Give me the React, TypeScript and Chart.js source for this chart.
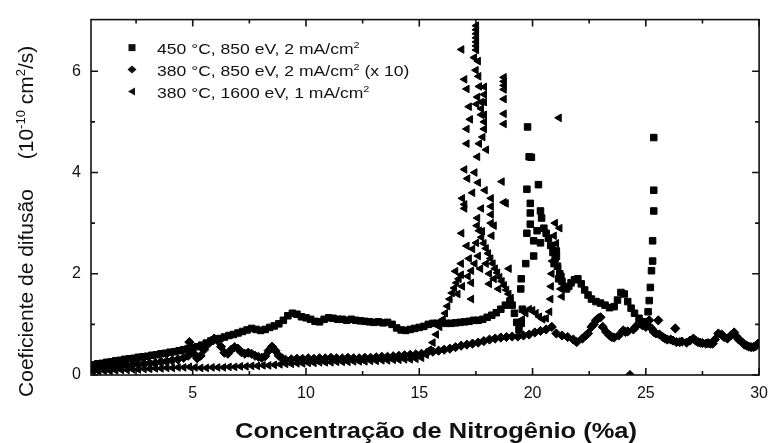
import React, { useEffect, useRef } from 'react';
import { Chart, registerables } from 'chart.js';

Chart.register(...registerables);

const FONT = '"Liberation Sans", Arial, Helvetica, sans-serif';

const X_MIN = 0.51;
const X_MAX = 30;
const Y_MIN = 0;
const Y_MAX = 7.02;
const X_TICKS = [5, 10, 15, 20, 25, 30];
const X_MINOR = [2.5, 7.5, 12.5, 17.5, 22.5, 27.5];
const Y_TICKS = [0, 2, 4, 6];
const Y_MINOR = [1, 3, 5];

const X_TITLE = 'Concentração de Nitrogênio (%a)';
const Y_TITLE_MAIN = 'Coeficiente de difusão';
const Y_TITLE_UNIT = '(10⁻¹⁰ cm²/s)';

const LABELS = [
  '450 °C, 850 eV, 2 mA/cm²',
  '380 °C, 850 eV, 2 mA/cm² (x 10)',
  '380 °C, 1600 eV, 1 mA/cm²',
];

// 450 °C, 850 eV, 2 mA/cm² (squares)
const SERIES_450: [number, number][] = [
  [0.6,0.2],[0.8,0.22],[1.0,0.23],[1.2,0.25],[1.4,0.26],[1.6,0.28],[1.8,0.29],[2.0,0.31],[2.2,0.32],[2.4,0.33],
  [2.6,0.35],[2.8,0.36],[3.0,0.37],[3.2,0.39],[3.4,0.4],[3.6,0.42],[3.8,0.43],[4.0,0.45],[4.2,0.46],[4.4,0.48],
  [4.6,0.5],[4.8,0.52],[5.0,0.54],[5.2,0.56],[5.4,0.59],[5.6,0.63],[5.8,0.67],[6.0,0.7],[6.2,0.72],[6.4,0.75],
  [6.6,0.78],[6.8,0.8],[7.0,0.83],[7.2,0.86],[7.4,0.89],[7.6,0.92],[7.8,0.9],[8.0,0.88],[8.2,0.9],[8.4,0.94],
  [8.6,0.97],[8.8,1.01],[9.0,1.08],[9.2,1.17],[9.4,1.22],[9.6,1.2],[9.8,1.15],[10.0,1.13],[10.2,1.1],[10.4,1.06],
  [10.6,1.05],[10.8,1.1],[11.0,1.13],[11.2,1.12],[11.4,1.1],[11.6,1.1],[11.8,1.08],[12.0,1.1],[12.2,1.08],[12.4,1.07],
  [12.6,1.06],[12.8,1.05],[13.0,1.04],[13.2,1.05],[13.4,1.03],[13.6,1.04],[13.8,1.0],[14.0,0.93],[14.2,0.89],[14.4,0.88],
  [14.6,0.9],[14.8,0.92],[15.0,0.94],[15.2,0.96],[15.4,1.0],[15.6,1.02],[15.8,1.02],[16.0,1.03],[16.2,1.02],[16.4,1.02],
  [16.6,1.03],[16.8,1.04],[17.0,1.05],[17.2,1.06],[17.4,1.08],[17.6,1.08],[17.8,1.1],[18.0,1.14],[18.2,1.18],[18.4,1.23],
  [18.6,1.3],[18.8,1.38],[19.0,1.45],[19.1,1.38],[19.2,1.22],[19.3,1.04],[19.4,0.9],[19.5,1.02],[19.55,1.3],[19.48,1.7],
  [19.5,1.9],[19.7,2.2],[19.75,2.8],[19.9,2.98],[19.9,3.2],[19.9,3.39],[19.75,3.67],[19.85,4.31],[19.95,4.3],[19.78,4.9],
  [20.05,2.35],[20.05,2.65],[20.26,3.76],[20.35,3.24],[20.4,3.1],[20.35,2.61],[20.2,2.85],[20.5,2.9],[20.6,2.8],[20.7,2.7],
  [20.8,2.56],[20.9,2.42],[21.0,2.3],[21.1,2.15],[21.2,2.0],[21.3,1.85],[21.4,1.73],[21.5,1.7],[21.6,1.75],[21.7,1.82],
  [21.85,1.88],[22.0,1.9],[22.15,1.8],[22.3,1.68],[22.45,1.58],[22.6,1.5],[22.8,1.45],[23.0,1.42],[23.2,1.38],[23.4,1.33],
  [23.6,1.35],[23.75,1.48],[23.9,1.63],[24.05,1.6],[24.2,1.45],[24.35,1.32],[24.5,1.22],[24.7,1.12],[24.9,1.05],[25.05,1.0],
  [25.1,1.25],[25.15,1.47],[25.2,1.73],[25.25,2.06],[25.3,2.25],[25.3,2.65],[25.35,3.24],[25.35,3.65],[25.35,4.69],
  [21.05,2.45],[21.25,1.95],[20.95,2.2],[21.15,1.9],
];

// 380 °C, 850 eV, 2 mA/cm² (x 10) (diamonds)
const SERIES_380_850: [number, number][] = [
  [0.6,0.13],[0.85,0.14],[1.1,0.15],[1.35,0.16],[1.6,0.17],[1.85,0.18],[2.1,0.19],[2.35,0.2],[2.6,0.21],[2.85,0.22],
  [3.1,0.23],[3.35,0.24],[3.6,0.26],[3.85,0.27],[4.1,0.29],[4.35,0.31],[4.6,0.34],[4.8,0.38],[4.85,0.65],[4.9,0.5],
  [5.05,0.42],[5.2,0.33],[5.35,0.38],[5.5,0.5],[5.65,0.6],[5.8,0.67],[5.95,0.72],[6.1,0.68],[6.25,0.56],[6.4,0.44],
  [6.55,0.42],[6.7,0.5],[6.85,0.55],[7.0,0.52],[7.15,0.45],[7.3,0.42],[7.45,0.44],[7.6,0.42],[7.75,0.38],[7.9,0.36],
  [8.05,0.34],[8.2,0.37],[8.35,0.48],[8.5,0.56],[8.65,0.48],[8.8,0.38],[8.95,0.33],[9.1,0.3],[9.35,0.31],[9.6,0.32],
  [9.85,0.32],[10.1,0.33],[10.35,0.32],[10.6,0.33],[10.85,0.33],[11.1,0.34],[11.35,0.33],[11.6,0.33],[11.85,0.34],[12.1,0.33],
  [12.35,0.33],[12.6,0.34],[12.85,0.34],[13.1,0.35],[13.35,0.36],[13.6,0.36],[13.85,0.37],[14.1,0.38],[14.35,0.39],[14.6,0.4],
  [14.85,0.41],[15.1,0.42],[15.35,0.44],[15.6,0.46],[15.85,0.48],[16.1,0.5],[16.35,0.52],[16.6,0.55],[16.85,0.58],[17.1,0.6],
  [17.35,0.62],[17.6,0.64],[17.85,0.67],[18.1,0.7],[18.35,0.72],[18.6,0.74],[18.85,0.75],[19.1,0.76],[19.35,0.76],[19.6,0.78],
  [19.85,0.8],[20.1,0.84],[20.35,0.87],[20.6,0.9],[20.85,0.95],[21.05,0.82],[21.3,0.78],[21.55,0.75],[21.8,0.7],[21.95,0.65],
  [22.2,0.72],[22.45,0.82],[22.6,0.95],[22.8,1.08],[23.0,1.14],[23.1,0.95],[23.25,0.85],[23.4,0.78],[23.6,0.74],[23.8,0.78],
  [24.0,0.88],[24.2,0.86],[24.3,0.0],[24.45,0.9],[24.65,1.0],[24.85,0.98],[25.0,0.95],[25.15,1.08],[25.35,0.85],[25.55,1.08],
  [25.6,0.8],[25.85,0.72],[26.1,0.7],[26.3,0.92],[26.35,0.65],[26.6,0.66],[26.8,0.64],[27.1,0.72],[27.3,0.65],[27.5,0.63],
  [27.75,0.63],[27.95,0.62],[28.2,0.82],[28.45,0.75],[28.6,0.72],[28.9,0.84],[29.1,0.7],[29.25,0.65],[29.45,0.58],[29.65,0.55],
  [29.85,0.57],[29.95,0.62],
  [22.35,0.78],[22.7,1.0],[22.9,1.12],[23.5,0.75],[24.1,0.85],[24.55,0.95],[25.25,0.92],[25.45,0.82],[25.75,0.75],[25.95,0.7],
  [26.2,0.68],[26.5,0.65],[26.95,0.68],[27.2,0.68],[27.4,0.64],[27.65,0.62],[27.85,0.62],[28.05,0.7],[28.35,0.8],[28.75,0.78],
  [29.0,0.76],[29.35,0.6],[29.55,0.56],[29.75,0.55],
];

// 380 °C, 1600 eV, 1 mA/cm² (left triangles)
const SERIES_380_1600: [number, number][] = [
  [0.6,0.07],[0.85,0.07],[1.1,0.08],[1.35,0.08],[1.6,0.09],[1.85,0.1],[2.1,0.1],[2.35,0.11],[2.6,0.11],[2.85,0.12],
  [3.1,0.12],[3.35,0.13],[3.6,0.13],[3.85,0.14],[4.1,0.14],[4.35,0.15],[4.6,0.15],[4.85,0.16],[5.1,0.15],[5.35,0.14],
  [5.6,0.14],[5.85,0.15],[6.1,0.15],[6.35,0.15],[6.6,0.16],[6.85,0.16],[7.1,0.17],[7.35,0.17],[7.6,0.18],[7.85,0.18],
  [8.1,0.19],[8.35,0.19],[8.6,0.2],[8.85,0.21],[9.1,0.22],[9.35,0.22],[9.6,0.23],[9.85,0.23],[10.1,0.24],[10.35,0.24],
  [10.6,0.25],[10.85,0.25],[11.1,0.25],[11.35,0.26],[11.6,0.26],[11.85,0.26],[12.1,0.27],[12.35,0.27],[12.6,0.27],[12.85,0.28],
  [13.1,0.28],[13.35,0.29],[13.6,0.29],[13.85,0.3],[14.1,0.3],[14.35,0.31],[14.6,0.31],[14.85,0.32],[15.1,0.34],[15.3,0.4],
  [15.45,0.5],[15.6,0.64],[15.75,0.8],[15.9,0.95],[16.05,1.1],[16.15,1.22],[16.25,1.36],[16.35,1.5],[16.45,1.62],[16.55,1.72],
  [16.65,1.82],[16.75,1.9],[16.85,1.98],[16.6,2.05],[16.7,1.6],[16.9,1.75],[16.85,2.2],[16.87,2.8],[16.9,3.49],[17.0,3.37],
  [17.0,4.06],[17.13,3.88],[17.1,4.57],[17.1,4.86],[17.0,5.84],[17.1,5.65],[16.87,6.43],[17.43,6.27],[17.5,6.02],[17.52,6.42],
  [17.52,6.5],[17.52,6.58],[17.52,6.66],[17.52,6.74],[17.52,6.82],[17.52,6.9],[17.57,5.49],[17.53,5.35],[17.87,5.69],[17.87,5.54],
  [17.87,5.39],[17.74,5.39],[17.74,5.26],[17.74,5.14],[17.87,5.14],[17.87,5.0],[17.87,4.86],[17.65,4.57],[17.96,4.45],[17.57,4.31],
  [18.65,3.82],[18.83,3.39],[18.74,3.41],[17.0,3.29],[17.74,3.29],[18.17,3.49],[18.17,3.33],[18.17,3.17],[18.17,3.0],[17.57,3.1],
  [17.3,2.06],[17.3,1.82],[17.3,1.5],[17.35,2.49],[17.52,2.61],[17.78,2.84],[18.2,2.75],[18.09,2.0],[18.09,1.8],[18.96,2.1],
  [18.74,5.88],[18.74,5.8],[18.74,5.72],[18.74,5.64],[18.74,5.45],[18.74,5.16],[18.74,4.96],[17.55,2.95],[17.65,2.85],[17.75,2.72],
  [17.85,2.6],[17.95,2.5],[18.05,2.4],[18.15,2.3],[18.25,2.2],[18.35,2.1],[18.45,2.02],[18.55,1.93],[18.65,1.85],[18.75,1.77],
  [18.85,1.68],[18.95,1.6],[19.05,1.52],[19.55,1.1],[19.7,1.22],[19.85,1.3],[20.0,1.28],[20.15,1.22],[20.3,1.15],[20.45,1.1],
  [20.6,1.12],[20.75,1.25],[20.8,1.5],[20.82,1.75],[20.85,2.0],[20.88,2.25],[20.9,2.5],[20.95,2.75],[21.0,3.0],[21.05,2.6],
  [21.1,2.35],[21.15,2.1],[21.2,1.9],[21.25,1.7],[21.3,1.55],[21.2,2.9],[21.17,5.08],
  [17.6,6.2],[17.62,5.9],[17.65,5.7],[17.2,5.3],[17.25,5.05],[17.8,4.7],[17.45,4.0],[17.6,3.8],[17.35,3.6],[17.9,3.65],
  [18.3,2.95],[17.1,2.55],[17.2,2.3],[17.45,2.2],[17.6,2.35],[17.7,2.1],[17.95,2.2],[18.3,1.9],[18.5,1.7],[17.15,1.95],
];

const INK = '#111111';

const SUP_MAP: Record<string, string> = { '⁻': '-', '¹': '1', '⁰': '0', '²': '2' };

type Seg = { t: string; sup: boolean };
function segments(text: string): Seg[] {
  const out: Seg[] = [];
  for (const ch of text) {
    const sup = ch in SUP_MAP;
    const c = sup ? SUP_MAP[ch] : ch;
    const last = out[out.length - 1];
    if (last && last.sup === sup) last.t += c;
    else out.push({ t: c, sup });
  }
  return out;
}
function fontStr(size: number, bold: boolean) {
  return `${bold ? 'bold ' : ''}${size}px ${FONT}`;
}
function measureRich(ctx: CanvasRenderingContext2D, text: string, size: number, bold = false) {
  let w = 0;
  for (const s of segments(text)) {
    ctx.font = fontStr(s.sup ? size * 0.62 : size, bold);
    w += ctx.measureText(s.t).width;
  }
  return w;
}
function drawRich(ctx: CanvasRenderingContext2D, text: string, x: number, y: number, size: number, bold = false) {
  let cx = x;
  for (const s of segments(text)) {
    const fs = s.sup ? size * 0.62 : size;
    ctx.font = fontStr(fs, bold);
    ctx.fillText(s.t, cx, s.sup ? y - size * 0.4 : y);
    cx += ctx.measureText(s.t).width;
  }
}

function drawMarker(ctx: CanvasRenderingContext2D, style: string, x: number, y: number) {
  ctx.beginPath();
  if (style === 'rect') {
    ctx.rect(x - 3.5, y - 3.5, 7, 7);
  } else if (style === 'rectRot') {
    ctx.moveTo(x - 4.5, y);
    ctx.lineTo(x, y - 4);
    ctx.lineTo(x + 4.5, y);
    ctx.lineTo(x, y + 4);
    ctx.closePath();
  } else {
    ctx.moveTo(x - 4, y);
    ctx.lineTo(x + 3, y - 4);
    ctx.lineTo(x + 3, y + 4);
    ctx.closePath();
  }
  ctx.fill();
}

const decorPlugin = {
  id: 'decor',
  afterDatasetsDraw(chart: any) {
    const ctx: CanvasRenderingContext2D = chart.ctx;
    const a = chart.chartArea;
    const xs = chart.scales.x;
    const ys = chart.scales.y;
    ctx.save();
    ctx.strokeStyle = INK;
    ctx.fillStyle = INK;
    ctx.lineWidth = 1.6;
    ctx.strokeRect(a.left, a.top, a.right - a.left, a.bottom - a.top);

    ctx.beginPath();
    const xTick = (v: number, len: number) => {
      const px = xs.getPixelForValue(v);
      ctx.moveTo(px, a.bottom);
      ctx.lineTo(px, a.bottom - len);
      ctx.moveTo(px, a.top);
      ctx.lineTo(px, a.top + len);
    };
    const yTick = (v: number, len: number) => {
      const py = ys.getPixelForValue(v);
      ctx.moveTo(a.left, py);
      ctx.lineTo(a.left + len, py);
      ctx.moveTo(a.right, py);
      ctx.lineTo(a.right - len, py);
    };
    X_TICKS.forEach((v) => xTick(v, 7));
    X_MINOR.forEach((v) => xTick(v, 4));
    Y_TICKS.forEach((v) => yTick(v, 7));
    Y_MINOR.forEach((v) => yTick(v, 4));
    ctx.stroke();

    // legend inside plot, top-left
    chart.data.datasets.forEach((ds: any, i: number) => {
      const base = a.top + 34 + i * 22;
      drawMarker(ctx, ds.pointStyle, a.left + 41, base - 6);
      ctx.save();
      ctx.translate(a.left + 66, base);
      ctx.scale(1.17, 1);
      ctx.textBaseline = 'alphabetic';
      ctx.textAlign = 'left';
      drawRich(ctx, ds.label, 0, 0, 15);
      ctx.restore();
    });

    // x title
    ctx.save();
    ctx.font = fontStr(22, true);
    const w = ctx.measureText(X_TITLE).width;
    ctx.translate(436, 438);
    ctx.scale(402 / w, 1);
    ctx.textAlign = 'center';
    ctx.textBaseline = 'alphabetic';
    ctx.fillText(X_TITLE, 0, 0);
    ctx.restore();

    // y title (two parts)
    ctx.save();
    ctx.translate(33, 0);
    ctx.rotate(-Math.PI / 2);
    ctx.textBaseline = 'alphabetic';
    ctx.textAlign = 'left';
    ctx.font = fontStr(21, false);
    const mw = ctx.measureText(Y_TITLE_MAIN).width;
    ctx.fillText(Y_TITLE_MAIN, -293 - mw / 2, 0);
    const uw = measureRich(ctx, Y_TITLE_UNIT, 21);
    drawRich(ctx, Y_TITLE_UNIT, -102.5 - uw / 2, 0, 21);
    ctx.restore();

    ctx.restore();
  },
};

const toPts = (arr: [number, number][]) => arr.map(([x, y]) => ({ x, y }));

export default function App() {
  const ref = useRef<HTMLCanvasElement>(null);
  useEffect(() => {
    document.body.style.margin = '0';
    document.body.style.overflow = 'hidden';
    const canvas = ref.current!;
    const tickFont = { family: FONT, size: 16 };
    const chart = new Chart(canvas, {
      type: 'scatter',
      data: {
        datasets: [
          {
            label: LABELS[0],
            data: toPts(SERIES_450),
            pointStyle: 'rect',
            pointRadius: 4.6,
            backgroundColor: '#000',
            borderColor: '#000',
            pointBorderWidth: 1,
          },
          {
            label: LABELS[1],
            data: toPts(SERIES_380_850),
            pointStyle: 'rectRot',
            pointRadius: 4.6,
            backgroundColor: '#000',
            borderColor: '#000',
            pointBorderWidth: 1,
          },
          {
            label: LABELS[2],
            data: toPts(SERIES_380_1600),
            pointStyle: 'triangle',
            pointRotation: -90,
            pointRadius: 4.4,
            backgroundColor: '#000',
            borderColor: '#000',
            pointBorderWidth: 1,
          },
        ] as any,
      },
      options: {
        responsive: false,
        animation: false,
        events: [],
        layout: { padding: { top: 16, right: 9, left: 0, bottom: 0 } },
        plugins: {
          legend: { display: false },
          tooltip: { enabled: false },
          title: { display: false },
        },
        scales: {
          x: {
            type: 'linear',
            min: X_MIN,
            max: X_MAX,
            afterBuildTicks: (s: any) => {
              s.ticks = X_TICKS.map((v) => ({ value: v }));
            },
            afterFit: (s: any) => {
              s.height = 68;
            },
            grid: { display: false, drawTicks: false },
            border: { display: false },
            ticks: { padding: 9, font: tickFont, color: INK, maxRotation: 0, autoSkip: false },
          },
          y: {
            type: 'linear',
            min: Y_MIN,
            max: Y_MAX,
            afterBuildTicks: (s: any) => {
              s.ticks = Y_TICKS.map((v) => ({ value: v }));
            },
            afterFit: (s: any) => {
              s.width = 91;
            },
            grid: { display: false, drawTicks: false },
            border: { display: false },
            ticks: { padding: 10, font: tickFont, color: INK, autoSkip: false },
          },
        },
      } as any,
      plugins: [decorPlugin],
    });
    return () => chart.destroy();
  }, []);
  return (
    <div style={{ width: 777, height: 443, position: 'relative', background: '#fff' }}>
      <canvas ref={ref} width={777} height={443} style={{ display: 'block', width: 777, height: 443 }} />
    </div>
  );
}
